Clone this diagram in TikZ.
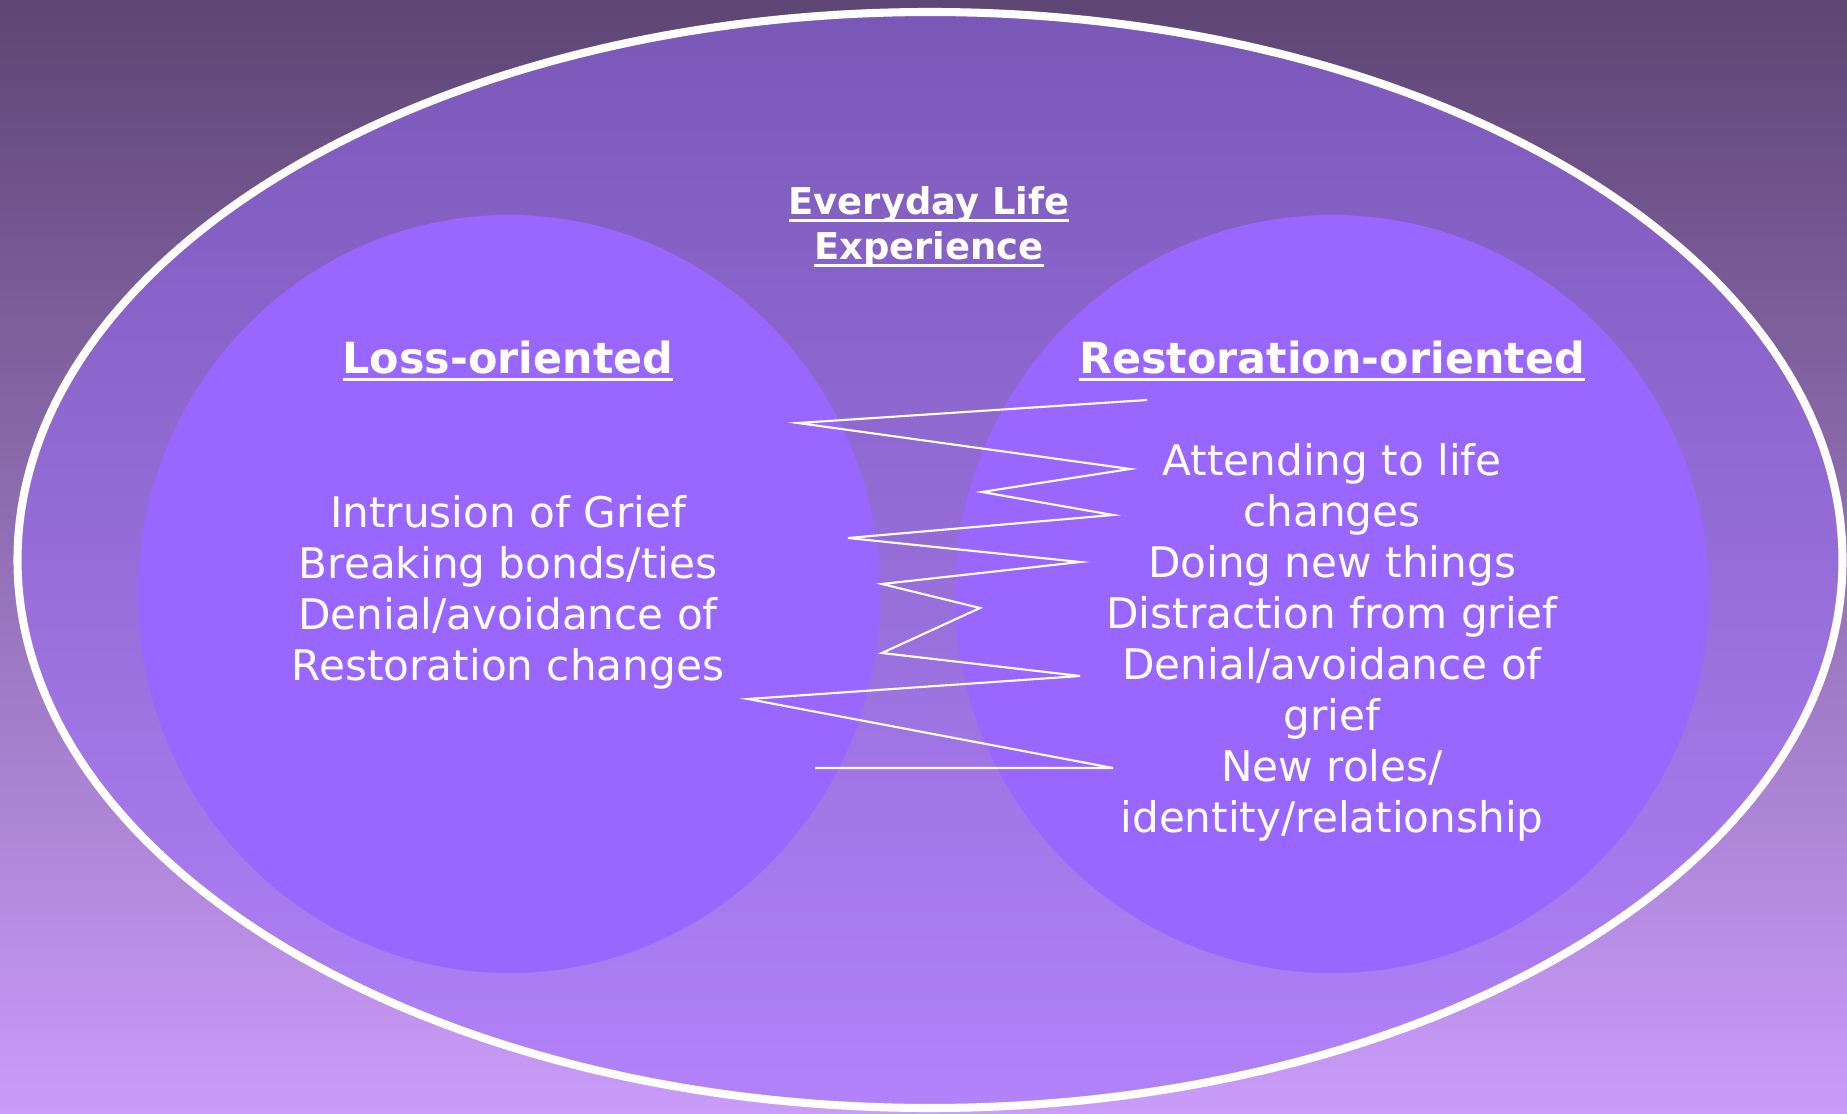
\documentclass[tikz,border=0pt]{standalone}
\usepackage{fontspec}
\setmainfont{DejaVu Sans}
\usetikzlibrary{positioning,shapes.geometric}
% underline sitting just below the baseline
\newcommand{\ulined}[1]{\setbox0\hbox{#1}\rlap{\rule[-2.2pt]{\wd0}{1pt}}\box0}
\definecolor{bgtop}{HTML}{5D4574}
\definecolor{bgbottom}{HTML}{CA9CFA}
\definecolor{lifetop}{HTML}{7A58B7}
\definecolor{lifebottom}{HTML}{B282FA}
\definecolor{discfill}{HTML}{9966FF}
\tikzset{
rim/.style = {ellipse, draw=white, line width=2.3pt, top color=lifetop, bottom color=lifebottom, minimum width=182.5mm, minimum height=109.6mm, inner sep=0pt},
disc/.style = {ellipse, fill=discfill, minimum height=75.8mm, inner sep=0pt},
heading/.style = {text=white, font=\fontsize{12.2}{15}\selectfont\bfseries},
caption/.style = {text=white, align=center, font=\fontsize{10.5}{12.8}\selectfont\bfseries},
bodytext/.style = {text=white, align=center, font=\fontsize{12}{14.5}\selectfont},
zig/.style = {draw=white, line width=0.6pt}
}

\begin{document}
\begin{tikzpicture}[x=0.1mm, y=-0.1mm, node distance=2cm]
    \shade[top color=bgtop, bottom color=bgbottom] (0,0) rectangle (1847,1114);
    \useasboundingbox (0,0) rectangle (1847,1114);

    \node [rim] (life) at (930,560) {};
    \node [disc, minimum width=74.2mm] (loss) at (509,594) {};
    \node [disc, minimum width=75.4mm] (rest) at (1332,594) {};

    \node [caption] (everyday) at (929,227)
      {\ulined{Everyday Life}\\\ulined{Experience}};

    \node [heading] (losshead) at (508,361) {\ulined{Loss-oriented}};
    \node [bodytext, below of=losshead, node distance=23.1mm] (losstext)
      {Intrusion of Grief\\Breaking bonds/ties\\Denial/avoidance of\\Restoration changes};

    \node [heading] (resthead) at (1332,361) {\ulined{Restoration-oriented}};
    \node [bodytext, below of=resthead, node distance=28.1mm] (resttext)
      {Attending to life\\changes\\Doing new things\\Distraction from grief\\Denial/avoidance of\\grief\\New roles/\\identity/relationship};

    % oscillation between the two sides
    \coordinate (z1) at (1147,400);
    \coordinate (z2) at (798,423);
    \coordinate (z3) at (1130,469);
    \coordinate (z4) at (982,492);
    \coordinate (z5) at (1113,515);
    \coordinate (z6) at (848,538);
    \coordinate (z7) at (1080,562);
    \coordinate (z8) at (882,584);
    \coordinate (z9) at (980,608);
    \coordinate (z10) at (882,653);
    \coordinate (z11) at (1080,676);
    \coordinate (z12) at (748,699);
    \coordinate (z13) at (1113,768);
    \coordinate (z14) at (815,768);
    \draw[zig] (z1) \foreach \i in {2,...,14} {-- (z\i)};

\end{tikzpicture}
\end{document}
